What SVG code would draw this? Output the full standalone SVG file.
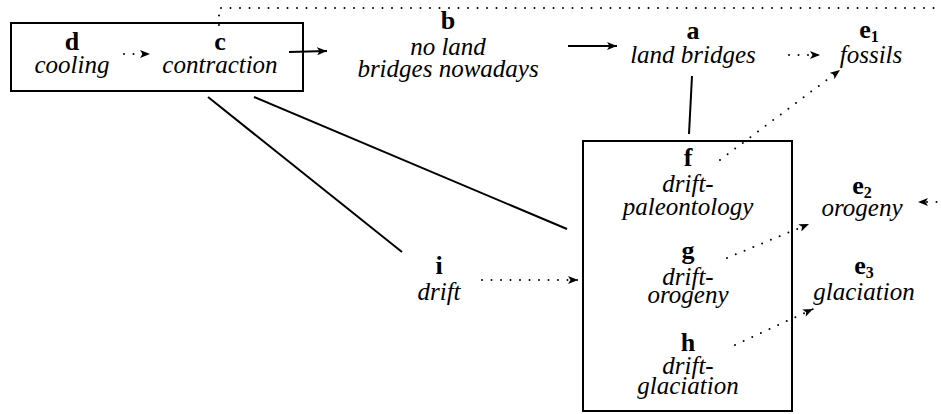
<svg xmlns="http://www.w3.org/2000/svg" width="941" height="414" viewBox="0 0 941 414">
<style>
.lb{font-family:"Liberation Serif","Times New Roman",serif;font-weight:bold;font-size:26px;fill:#000;text-anchor:middle}
.sub{font-size:16px}
.tx{font-family:"Liberation Serif","Times New Roman",serif;font-style:italic;font-size:25px;fill:#000;text-anchor:middle}
.box{fill:none;stroke:#000;stroke-width:2}
.sol{fill:none;stroke:#000;stroke-width:2}
.dot{fill:none;stroke:#000;stroke-width:2;stroke-dasharray:0 9.5;stroke-linecap:round}
</style>
<defs>
<marker id="ah" viewBox="0 0 10 8" refX="10" refY="4" markerWidth="10" markerHeight="8" markerUnits="userSpaceOnUse" orient="auto">
<path d="M0,0 L10,4 L0,8 L2.5,4 z" fill="#000"/>
</marker>
</defs>
<rect width="941" height="414" fill="#fff"/>
<g id="connectors">
<path class="dot" d="M219,25 L219,8 L945,8"/>
<path class="dot" d="M946,202 L918,202" marker-end="url(#ah)"/>
<path class="dot" d="M124,54 L150,54" marker-end="url(#ah)"/>
<path class="sol" d="M289,52 L327,51" marker-end="url(#ah)"/>
<path class="sol" d="M568,46 L617,46" marker-end="url(#ah)"/>
<path class="dot" d="M789,55 L820,55" marker-end="url(#ah)"/>
<path class="sol" d="M692,76 L689,134"/>
<path class="sol" d="M208,97 L402,252"/>
<path class="sol" d="M254,97 L567,229"/>
<path class="dot" d="M720,160 L840,70" marker-end="url(#ah)"/>
<path class="dot" d="M727,258 L809,224" marker-end="url(#ah)"/>
<path class="dot" d="M735,345 L813,309" marker-end="url(#ah)"/>
<path class="dot" d="M482,280 L578,280" marker-end="url(#ah)"/>
</g>
<g id="box-dc"><rect class="box" x="11" y="23" width="292" height="68"/></g>
<g id="node-d"><text class="lb" x="72" y="50">d</text><text class="tx" x="72" y="73">cooling</text></g>
<g id="node-c"><text class="lb" x="220" y="50">c</text><text class="tx" x="220" y="73">contraction</text></g>
<g id="node-b"><text class="lb" x="448" y="29">b</text><text class="tx" x="448" y="55">no land</text><text class="tx" x="448" y="77">bridges nowadays</text></g>
<g id="node-a"><text class="lb" x="693" y="39">a</text><text class="tx" x="693" y="63">land bridges</text></g>
<g id="node-e1"><text class="lb" x="869" y="38">e<tspan class="sub" dy="4">1</tspan></text><text class="tx" x="871" y="63">fossils</text></g>
<g id="box-fgh"><rect class="box" x="583" y="141" width="209" height="270"/></g>
<g id="node-f"><text class="lb" x="688" y="166">f</text><text class="tx" x="688" y="192">drift-</text><text class="tx" x="688" y="215">paleontology</text></g>
<g id="node-g"><text class="lb" x="688" y="259">g</text><text class="tx" x="688" y="285">drift-</text><text class="tx" x="688" y="303">orogeny</text></g>
<g id="node-h"><text class="lb" x="688" y="351">h</text><text class="tx" x="688" y="374">drift-</text><text class="tx" x="688" y="394">glaciation</text></g>
<g id="node-e2"><text class="lb" x="862" y="194">e<tspan class="sub" dy="4">2</tspan></text><text class="tx" x="862" y="216">orogeny</text></g>
<g id="node-e3"><text class="lb" x="864" y="274">e<tspan class="sub" dy="4">3</tspan></text><text class="tx" x="864" y="300">glaciation</text></g>
<g id="node-i"><text class="lb" x="439" y="274">i</text><text class="tx" x="439" y="300">drift</text></g>
</svg>
